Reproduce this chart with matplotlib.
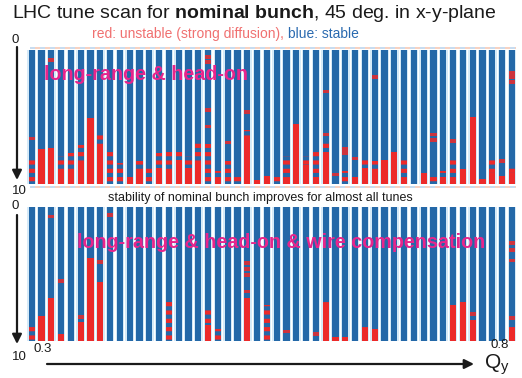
import numpy as np
import matplotlib
matplotlib.use('Agg')
import matplotlib.pyplot as plt

plt.rcParams['font.family'] = ['Liberation Sans', 'DejaVu Sans']
plt.rcParams['mathtext.fontset'] = 'custom'
plt.rcParams['mathtext.rm'] = 'Liberation Sans'
plt.rcParams['mathtext.it'] = 'Liberation Sans'
plt.rcParams['mathtext.bf'] = 'Liberation Sans:bold'
plt.rcParams['hatch.linewidth'] = 3.0

W, H = 522, 378
BLUE = '#2468a8'
RED = '#ec2a2a'
PINK = '#e8258c'

n_tunes = 50
tune_idx = np.arange(n_tunes)

# amplitude (sigma) where the striped / solid unstable zone starts; 10 means none
lrho_mixed = [8.2, 10, 10, 7.9, 7.7, 7.1, 10, 6.1, 7.6, 8.4,
              10, 8.3, 8.7, 7.7, 7.6, 7.5, 7.9, 6.9, 7.0, 9.0,
              8.3, 9.4, 6.0, 10, 10, 9.4, 7.9, 10, 7.9, 7.6,
              6.9, 10, 9.0, 10, 8.1, 8.3, 10, 10, 8.2, 10,
              10, 9.4, 9.0, 8.2, 10, 10, 10, 8.2, 10, 8.8]
lrho_solid = [10, 7.4, 7.3, 9.0, 9.0, 8.5, 5.1, 7.0, 10, 10,
              9.5, 9.0, 10, 8.8, 9.0, 8.2, 8.8, 8.5, 10, 9.7,
              10, 10, 6.6, 9.7, 9.4, 10, 9.6, 5.5, 8.6, 9.5,
              7.6, 10, 10, 9.5, 8.8, 9.0, 8.2, 7.6, 9.6, 10,
              9.2, 10, 9.5, 9.7, 8.9, 5.0, 9.6, 9.2, 9.4, 9.2]
lrho_spot_bar = [0, 2, 18, 18, 18, 18, 20, 22, 30, 30, 31, 32, 32, 33, 35,
                 41, 41, 43, 48, 49, 49, 49]
lrho_spot_amp = [6.6, 0.75, 0.5, 0.9, 4.5, 5.7, 6.9, 4.6, 3.1, 6.3, 9.3, 7.4, 7.7, 8.1, 2.0,
                 6.3, 6.7, 6.8, 8.3, 1.7, 2.0, 2.4]

wire_mixed = [8.8, 10, 10, 10, 10, 10, 10, 10, 10, 10,
              10, 10, 10, 10, 7.1, 10, 10, 10, 7.7, 9.1,
              10, 10, 10, 10, 7.3, 10, 10, 10, 10, 10,
              6.9, 10, 10, 10, 8.9, 10, 10, 10, 10, 10,
              10, 10, 10, 10, 10, 10, 10, 10, 10, 8.8]
wire_solid = [10, 8.1, 6.8, 9.5, 10, 8.6, 3.8, 5.6, 10, 10,
              10, 10, 10, 10, 10, 10, 10, 10, 8.8, 10,
              10, 10, 6.8, 10, 10, 10, 10, 10, 10, 10,
              7.3, 9.7, 9.7, 10, 9.1, 9.1, 10, 10, 10, 10,
              10, 10, 10, 7.3, 7.1, 8.4, 10, 10, 10, 9.1]
wire_spot_bar = [2, 3, 5, 7, 8, 22, 22, 22, 22, 26, 29, 45, 49, 49, 49, 49]
wire_spot_amp = [0.7, 5.5, 8.2, 4.1, 0.6, 4.2, 4.6, 5.1, 6.3, 9.3, 9.5, 8.0, 2.7, 3.2, 4.0, 8.3]

amp_max = 10


def draw_scan(ax, mixed, solid, spot_bar, spot_amp):
    mixed = np.array(mixed)
    solid = np.array(solid)
    ax.bar(tune_idx, amp_max, width=0.86, bottom=0, color='#d6eaf8', linewidth=0)
    ax.bar(tune_idx, amp_max, width=0.62, bottom=0, color=BLUE, linewidth=0)
    # striped zone: red lines over blue
    ax.bar(tune_idx, solid - mixed, width=0.62, bottom=mixed, facecolor='none',
           edgecolor=RED, hatch='--', linewidth=0)
    ax.bar(tune_idx, amp_max - solid, width=0.62, bottom=solid, color=RED, linewidth=0)
    ax.bar(spot_bar, 0.28, width=0.62, bottom=np.array(spot_amp) - 0.14, color=RED,
           alpha=0.85, linewidth=0)
    ax.set_xlim(-0.5, n_tunes - 0.5)
    ax.set_ylim(amp_max, 0)
    ax.axis('off')


fig = plt.figure(figsize=(W / 100, H / 100), dpi=100)

x0, x1 = 26.8, 516.8
ax_top = fig.add_axes([x0 / W, 1 - 184 / H, (x1 - x0) / W, 134 / H])
ax_bot = fig.add_axes([x0 / W, 1 - 341 / H, (x1 - x0) / W, 134 / H])
draw_scan(ax_top, lrho_mixed, lrho_solid, lrho_spot_bar, lrho_spot_amp)
draw_scan(ax_bot, wire_mixed, wire_solid, wire_spot_bar, wire_spot_amp)

# overlay in pixel coordinates for labels and arrows
ov = fig.add_axes([0, 0, 1, 1], zorder=5)
ov.set_xlim(0, W)
ov.set_ylim(H, 0)
ov.axis('off')

# faint dotted rims above each panel
for yy in (47.5, 186.5):
    ov.plot([30, 516], [yy, yy], color='#bcd6ee', lw=1.2, ls=(0, (3, 3)))
    ov.plot([30, 516], [yy, yy], color='#f6c8b4', lw=1.2, ls=(3, (3, 3)))

ov.text(12, 13, r'LHC tune scan for $\mathbf{nominal\ bunch}$, 45 deg. in x-y-plane',
        fontsize=14, va='center', ha='left', color='#1a1a1a')

t1 = ov.text(92, 34, 'red: unstable (strong diffusion), ', fontsize=10,
             color='#f07070', va='center', ha='left')
fig.canvas.draw()
bb = t1.get_window_extent()
ov.text(bb.x1, 34, 'blue: stable', fontsize=10, color='#2a6ab0',
        va='center', ha='left')

ov.text(44, 75, 'long-range & head-on', fontsize=14.2, fontweight='bold',
        color=PINK, va='center', ha='left')
ov.text(77, 242, 'long-range & head-on & wire compensation', fontsize=14.2,
        fontweight='bold', color=PINK, va='center', ha='left')
ov.text(260, 198, 'stability of nominal bunch improves for almost all tunes',
        fontsize=9, color='#1a1a1a', va='center', ha='center')

# amplitude arrows
for y_0, y_a, y_b, y_10 in ((40, 47, 180, 191), (206, 215, 344, 357)):
    ov.text(15, y_0, '0', fontsize=9.5, ha='center', va='center', color='#1a1a1a')
    ov.text(19, y_10, '10', fontsize=9.5, ha='center', va='center', color='#1a1a1a')
    ov.annotate('', xy=(17, y_b), xytext=(17, y_a),
                arrowprops=dict(arrowstyle='-|>', color='#1a1a1a', lw=1.6,
                                mutation_scale=14, shrinkA=0, shrinkB=0))

# tune axis
ov.text(43, 349, '0.3', fontsize=9.5, ha='center', va='center', color='#1a1a1a')
ov.text(500, 345, '0.8', fontsize=9.5, ha='center', va='center', color='#1a1a1a')
ov.annotate('', xy=(474, 364), xytext=(47, 364),
            arrowprops=dict(arrowstyle='-|>', color='#1a1a1a', lw=1.6,
                            mutation_scale=14, shrinkA=0, shrinkB=0))
ov.text(497, 365, r'Q$_\mathrm{y}$', fontsize=15, ha='center', va='center',
        color='#1a1a1a')

fig.savefig('out.png', dpi=100)
